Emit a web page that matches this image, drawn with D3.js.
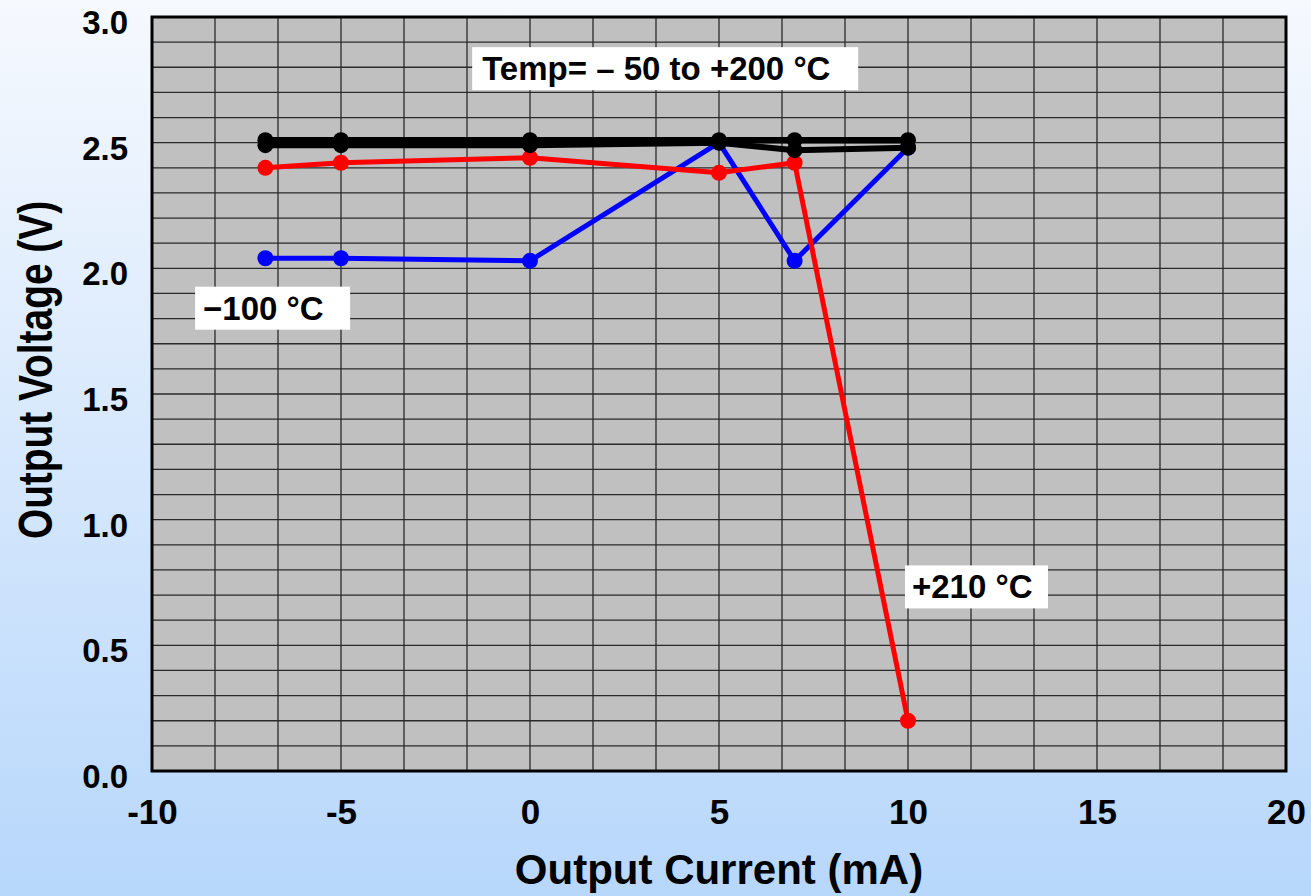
<!DOCTYPE html>
<html>
<head>
<meta charset="utf-8">
<script src="https://cdn.jsdelivr.net/npm/d3@7"></script>
<style>
  body { margin: 0; }
  svg { display: block; font-family: "Liberation Sans", Arial, sans-serif; font-weight: bold; }
</style>
</head>
<body>
<script>
// data
const current = [-7, -5, 0, 5, 7, 10];
const blackTop = [2.51, 2.51, 2.51, 2.51, 2.51, 2.51];
const blackLow = [2.49, 2.49, 2.49, 2.50, 2.47, 2.48];
const red210 = [2.40, 2.42, 2.44, 2.38, 2.42, 0.20];
const blue100 = [2.04, 2.04, 2.03, 2.50, 2.03, 2.48];
const xTicks = [-10, -5, 0, 5, 10, 15, 20];
const yTicks = [0, 0.5, 1.0, 1.5, 2.0, 2.5, 3.0];

const W = 1311, H = 896;
const margin = { top: 17, right: 25, bottom: 125, left: 152 };
const width = W - margin.left - margin.right;
const height = H - margin.top - margin.bottom;

const svg = d3.select('body').append('svg')
  .attr('width', W)
  .attr('height', H);

const grad = svg.append('defs').append('linearGradient')
  .attr('id', 'bg').attr('x1', 0).attr('y1', 0).attr('x2', 0).attr('y2', 1);
grad.append('stop').attr('offset', '0%').attr('stop-color', '#f6f9fe');
grad.append('stop').attr('offset', '100%').attr('stop-color', '#b7d7fb');

svg.append('rect').attr('width', W).attr('height', H).attr('fill', 'url(#bg)');

const g = svg.append('g')
  .attr('transform', `translate(${margin.left}, ${margin.top})`);

const x = d3.scaleLinear().domain([-10, 20]).range([0, width]);
const y = d3.scaleLinear().domain([0, 3]).range([height, 0]);

g.append('rect')
  .attr('width', width).attr('height', height)
  .attr('fill', '#c0c0c0');

// grid: 18 columns, 30 rows
const xGrid = d3.range(1, 18).map(i => -10 + i * 30 / 18);
const yGrid = d3.range(1, 30).map(i => i * 0.1);

g.append('g').selectAll('line').data(xGrid).join('line')
  .attr('x1', d => x(d)).attr('x2', d => x(d))
  .attr('y1', 0).attr('y2', height)
  .attr('stroke', '#2a2a2a').attr('stroke-width', 1.3);

g.append('g').selectAll('line').data(yGrid).join('line')
  .attr('y1', d => y(d)).attr('y2', d => y(d))
  .attr('x1', 0).attr('x2', width)
  .attr('stroke', '#2a2a2a').attr('stroke-width', 1.3);

g.append('rect')
  .attr('width', width).attr('height', height)
  .attr('fill', 'none').attr('stroke', '#000').attr('stroke-width', 3);

// axes as plain labels
const xAxis = d3.axisBottom(x).tickValues(xTicks).tickSize(0).tickPadding(28).tickFormat(d => String(d));
const yAxis = d3.axisLeft(y).tickValues(yTicks).tickSize(0).tickPadding(24).tickFormat(d3.format('.1f'));

const gx = g.append('g').attr('transform', `translate(0, ${height})`).call(xAxis);
const gy = g.append('g').call(yAxis);
[gx, gy].forEach(a => {
  a.select('.domain').remove();
  a.selectAll('text')
    .attr('fill', '#000')
    .style('font-weight', 'bold')
    .style('font-family', '"Liberation Sans", Arial, sans-serif');
});
gx.selectAll('text').style('font-size', '35px');
gy.selectAll('text').style('font-size', '33px').attr('dy', '0.5em');

svg.append('text')
  .attr('x', margin.left + x(5)).attr('y', 884)
  .attr('text-anchor', 'middle')
  .style('font-size', '42px')
  .text('Output Current (mA)');

svg.append('text')
  .attr('transform', `translate(52, 370) rotate(-90) scale(0.81, 1)`)
  .attr('text-anchor', 'middle')
  .style('font-size', '48px')
  .text('Output Voltage (V)');

// series, black drawn last
const series = [
  { vals: blue100, color: '#0000ff', w: 5 },
  { vals: red210, color: '#ff0000', w: 5 },
  { vals: blackLow, color: '#000', w: 6 },
  { vals: blackTop, color: '#000', w: 6.5 }
];

const line = d3.line().x(d => x(d[0])).y(d => y(d[1]));

series.forEach(s => {
  const pts = current.map((c, i) => [c, s.vals[i]]);
  g.append('path')
    .datum(pts)
    .attr('d', line)
    .attr('fill', 'none')
    .attr('stroke', s.color)
    .attr('stroke-width', s.w)
    .attr('stroke-linejoin', 'round');
  g.append('g').selectAll('circle').data(pts).join('circle')
    .attr('cx', d => x(d[0])).attr('cy', d => y(d[1]))
    .attr('r', 8)
    .attr('fill', s.color);
});

// annotation boxes
const notes = [
  { text: 'Temp= \u2013 50 to +200 \u00b0C', x: -1.53, y: 2.88, w: 386, h: 43, dx: 10 },
  { text: '\u2212100 \u00b0C', x: -8.86, y: 1.927, w: 155, h: 43, dx: 8 },
  { text: '+210 \u00b0C', x: 9.92, y: 0.818, w: 143, h: 43, dx: 7 }
];

notes.forEach(n => {
  const ng = g.append('g').attr('transform', `translate(${x(n.x)}, ${y(n.y)})`);
  ng.append('rect').attr('width', n.w).attr('height', n.h).attr('fill', '#fff');
  ng.append('text')
    .attr('x', n.dx).attr('y', 33)
    .style('font-size', '33px')
    .text(n.text);
});
</script>
</body>
</html>
